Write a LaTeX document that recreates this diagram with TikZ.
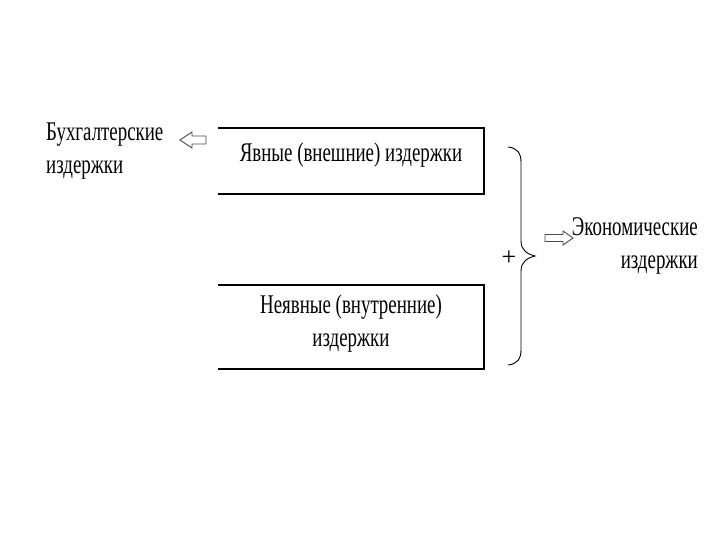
\documentclass[tikz,border=0pt]{standalone}
\usepackage{fontspec}
\setmainfont{Liberation Serif}
\newfontfamily\cond[FakeStretch=0.70]{Liberation Serif}
\tikzset{
  lbl/.style={font=\cond\fontsize{27}{33}\selectfont, inner sep=0pt},
  boxline/.style={line width=1.1pt, black},
  hollow/.style={draw=black!70, line width=0.9pt, fill=white},
}
\begin{document}
\begin{tikzpicture}[x=1pt,y=-1pt]
\useasboundingbox (0,0) rectangle (720,540);
% boxes (top, right, bottom sides)
\draw[boxline] (218,128) -- (484,128) -- (484,194) -- (218,194);
\draw[boxline] (218,285) -- (484,285) -- (484,369) -- (218,369);
\node[lbl] (explicit) at (351,155) {Явные (внешние) издержки};
\node[lbl, align=center] (implicit) at (351,324) {Неявные (внутренние)\\издержки};
% left label
\node[lbl, align=left, anchor=west] (acc) at (46,151) {Бухгалтерские\\издержки};
% right label
\node[lbl, align=right, anchor=east] (econ) at (698,246) {Экономические\\издержки};
% hollow left arrow
\draw[hollow] (180,140) -- (192,132) -- (192,136) -- (206,136) -- (206,144) -- (192,144) -- (192,148) -- cycle;
% hollow right arrow
\draw[hollow] (573,238) -- (563,231) -- (563,234.5) -- (545,234.5) -- (545,241.5) -- (563,241.5) -- (563,245) -- cycle;
% brace
\draw[line width=0.9pt] (508,147) .. controls (517,148) and (521,153) .. (521,162)
  -- (521,241) .. controls (521,250) and (527,254) .. (535,256)
  .. controls (527,258) and (521,262) .. (521,271)
  -- (521,350) .. controls (521,359) and (517,364) .. (508,365);
\node[font=\fontsize{26}{26}\selectfont, inner sep=0pt] (plus) at (509,258) {+};
\end{tikzpicture}
\end{document}
